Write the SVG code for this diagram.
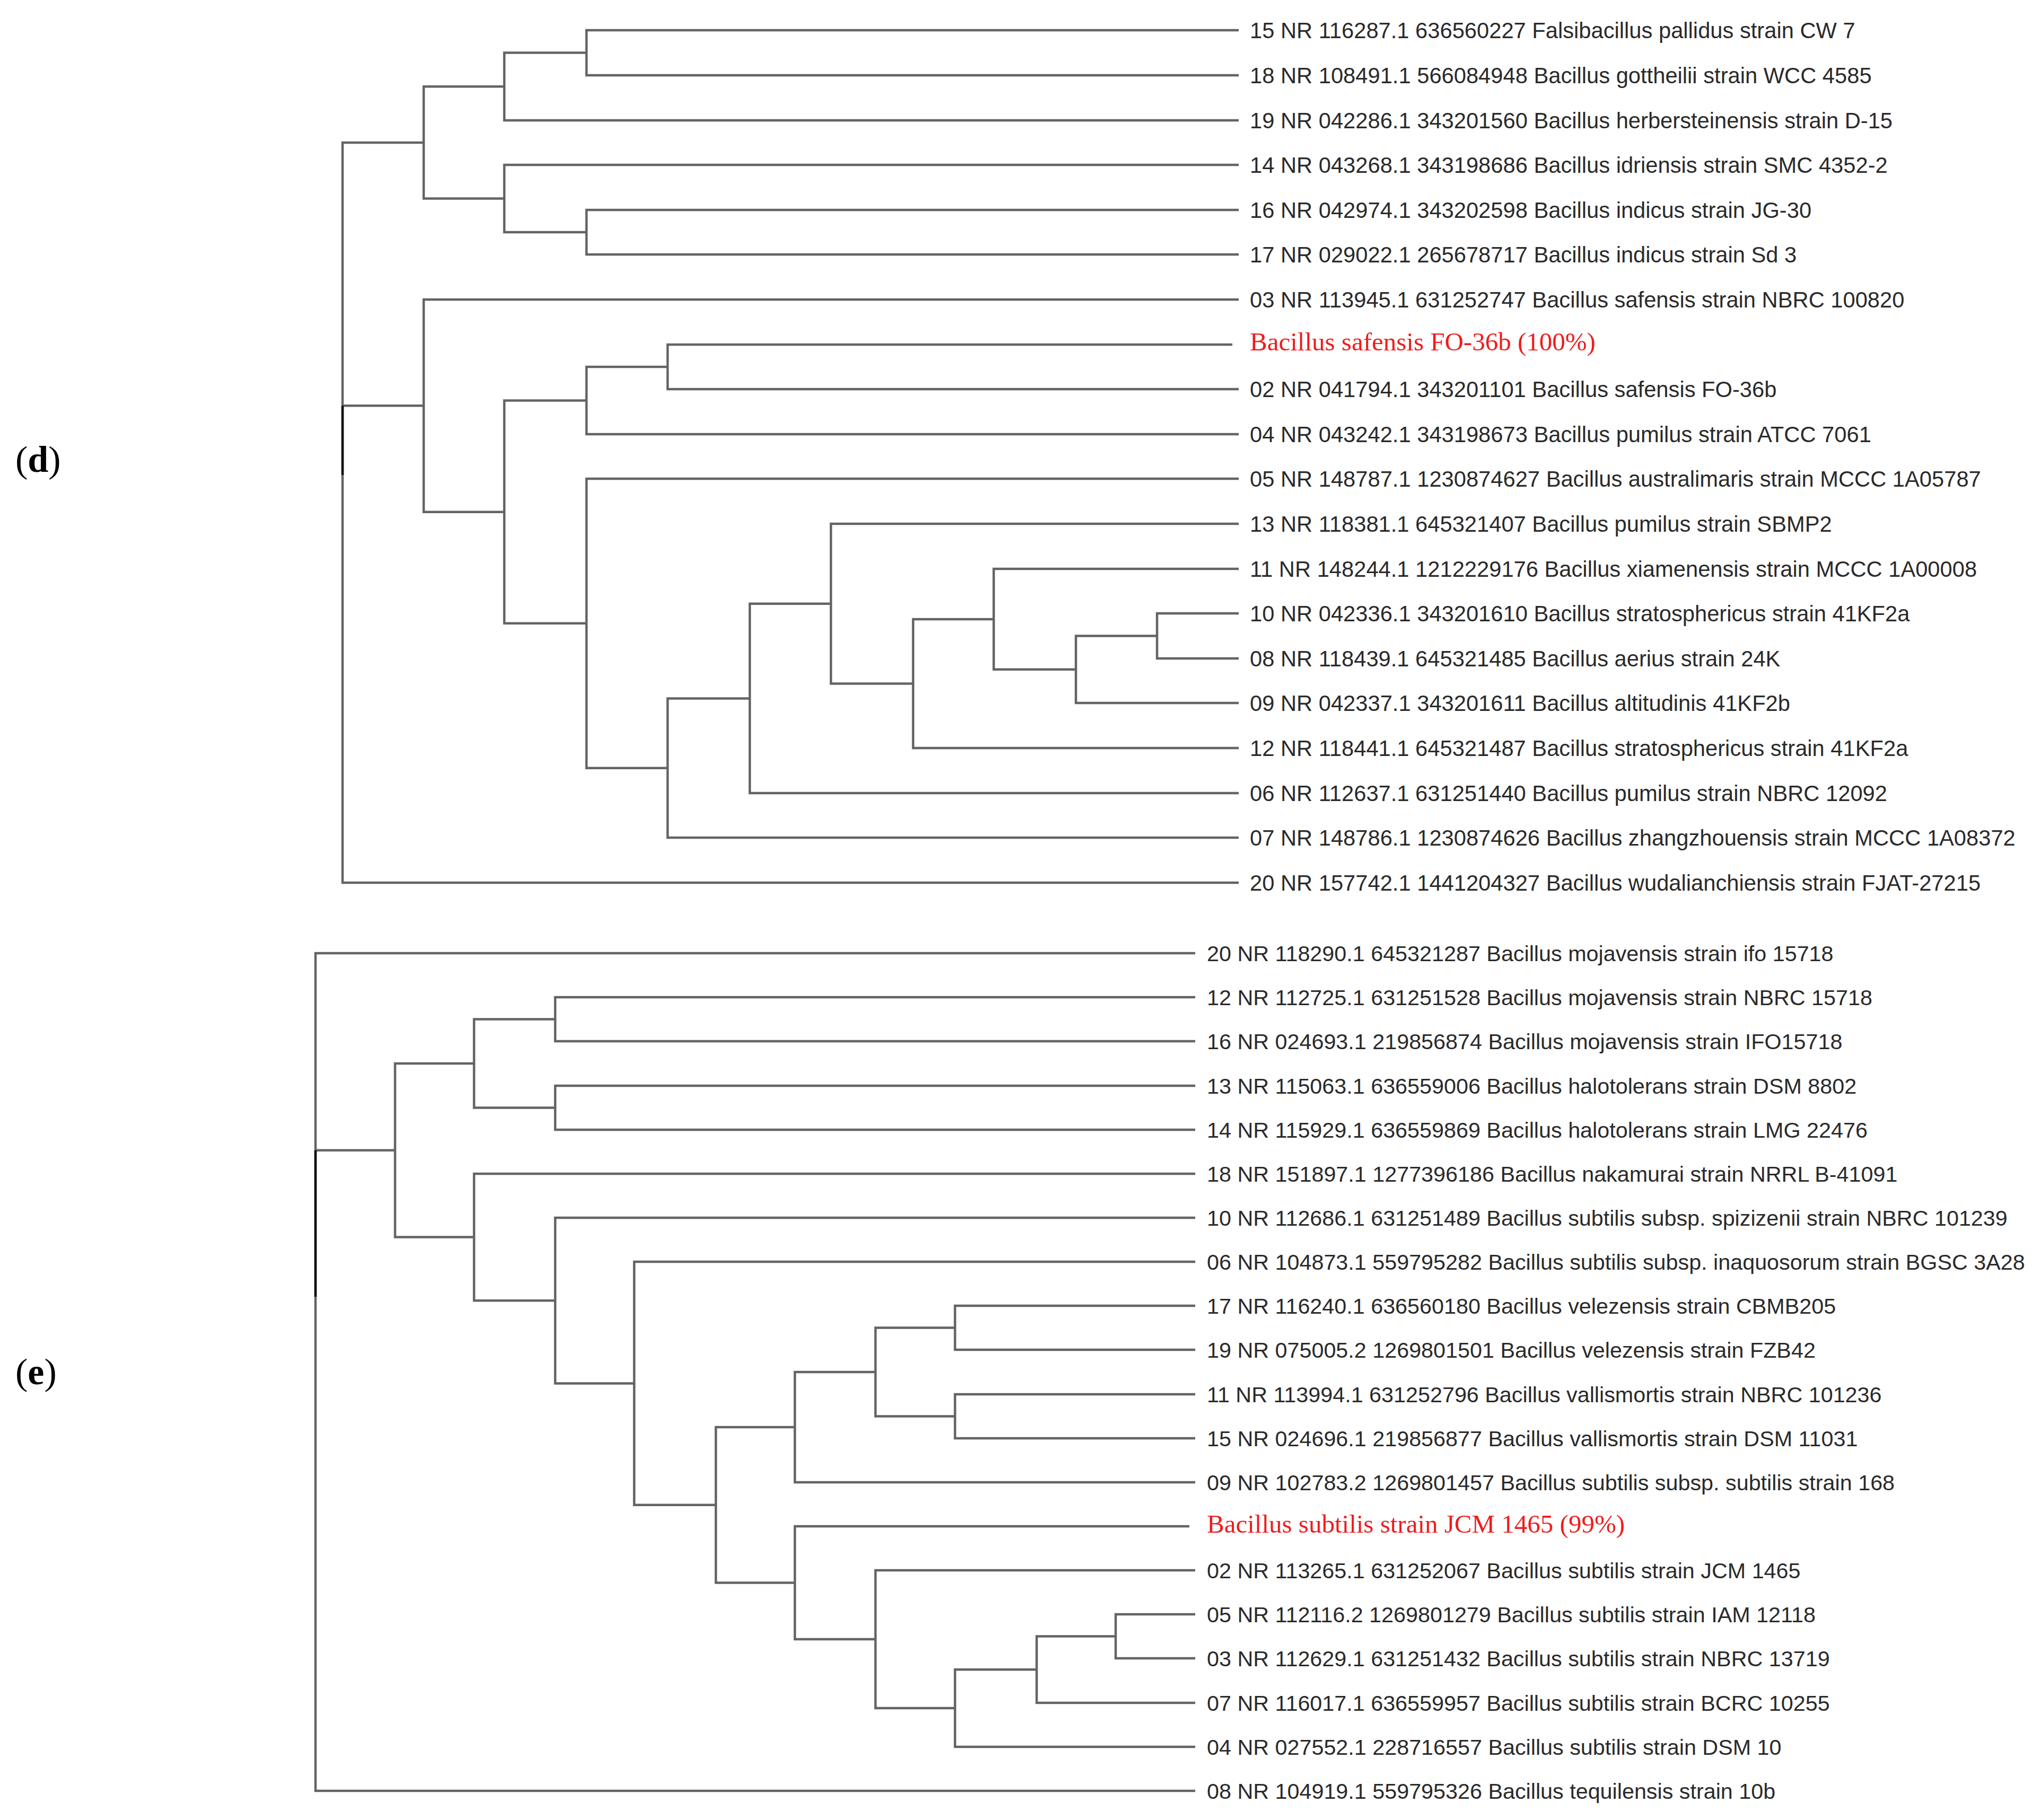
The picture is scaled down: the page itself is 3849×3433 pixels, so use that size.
<svg xmlns="http://www.w3.org/2000/svg" width="3849" height="3433" viewBox="0 0 3849 3433">
<style>
.br{fill:none;stroke:#646464;stroke-width:4.5}
.rt{fill:none;stroke:#111;stroke-width:4.5}
.lb{font-family:"Liberation Sans",Arial,sans-serif;font-size:41.7px;fill:#2a2a2a}
#leaves-e .lb{font-size:41.3px}
.rd{font-family:"Liberation Serif","Times New Roman",serif;font-size:49px;fill:#f01c1c}
.pn{font-family:"Liberation Serif","Times New Roman",serif;font-size:70px;fill:#000}
</style>
<rect width="3849" height="3433" fill="#fff"/>
<g id="panel-labels">
<text id="label-d" class="pn" x="29" y="890">(<tspan font-weight="bold">d</tspan>)</text>
<text id="label-e" class="pn" x="29" y="2611">(<tspan font-weight="bold">e</tspan>)</text>
</g>
<g id="connectors">
<g id="tree-d">
<path class="br" d="M2336 57H1106V142H2336"/>
<path class="br" d="M1106 99.5H951V227H2336"/>
<path class="br" d="M2336 396H1106V480H2336"/>
<path class="br" d="M2336 311H951V438H1106"/>
<path class="br" d="M951 163.25H799V374.5H951"/>
<path class="br" d="M2324 650H1259V734H2336"/>
<path class="br" d="M1259 692H1106V819H2336"/>
<path class="br" d="M2336 1157H2182V1242H2336"/>
<path class="br" d="M2182 1199.5H2029V1326H2336"/>
<path class="br" d="M2336 1073H1874V1262.75H2029"/>
<path class="br" d="M1874 1167.9H1722V1411H2336"/>
<path class="br" d="M2336 988H1567V1289.4H1722"/>
<path class="br" d="M1567 1138.7H1414V1496H2336"/>
<path class="br" d="M1414 1317.4H1259V1580H2336"/>
<path class="br" d="M2336 903H1106V1448.7H1259"/>
<path class="br" d="M1106 755.5H951V1175.8H1106"/>
<path class="br" d="M2336 565H799V965.7H951"/>
<path class="br" d="M799 268.9H646V1665H2336M646 765.3H799"/>
<path class="rt" d="M646 765.3V896"/>
</g>
<g id="tree-e">
<path class="br" d="M2254 1881H1047V1964H2254"/>
<path class="br" d="M2254 2048H1047V2131H2254"/>
<path class="br" d="M1047 1922.5H894V2089.5H1047"/>
<path class="br" d="M2254 2463H1801V2546H2254"/>
<path class="br" d="M2254 2630H1801V2713H2254"/>
<path class="br" d="M1801 2504.5H1651V2671.5H1801"/>
<path class="br" d="M1651 2588H1499V2796H2254"/>
<path class="br" d="M2254 3045H2104V3128H2254"/>
<path class="br" d="M2104 3086.5H1955V3212H2254"/>
<path class="br" d="M1955 3149.25H1801V3295H2254"/>
<path class="br" d="M2254 2962H1651V3222.1H1801"/>
<path class="br" d="M2243 2879H1499V3092.05H1651"/>
<path class="br" d="M1499 2692H1350V2985.5H1499"/>
<path class="br" d="M2254 2380H1196V2838.75H1350"/>
<path class="br" d="M2254 2297H1047V2609.4H1196"/>
<path class="br" d="M2254 2214H894V2453.2H1047"/>
<path class="br" d="M894 2006H745V2333.6H894"/>
<path class="br" d="M2254 1798H595V3378H2254M595 2169.8H745"/>
<path class="rt" d="M595 2169.8V2446"/>
</g>
</g>
<g id="leaves-d">
<g id="d15"><text class="lb" x="2357" y="72">15 NR 116287.1 636560227 Falsibacillus pallidus strain CW 7</text></g>
<g id="d18"><text class="lb" x="2357" y="157">18 NR 108491.1 566084948 Bacillus gottheilii strain WCC 4585</text></g>
<g id="d19"><text class="lb" x="2357" y="242">19 NR 042286.1 343201560 Bacillus herbersteinensis strain D-15</text></g>
<g id="d14"><text class="lb" x="2357" y="326">14 NR 043268.1 343198686 Bacillus idriensis strain SMC 4352-2</text></g>
<g id="d16"><text class="lb" x="2357" y="411">16 NR 042974.1 343202598 Bacillus indicus strain JG-30</text></g>
<g id="d17"><text class="lb" x="2357" y="495">17 NR 029022.1 265678717 Bacillus indicus strain Sd 3</text></g>
<g id="d03"><text class="lb" x="2357" y="580">03 NR 113945.1 631252747 Bacillus safensis strain NBRC 100820</text></g>
<g id="d-query"><text class="rd" x="2357" y="661">Bacillus safensis FO-36b (100%)</text></g>
<g id="d02"><text class="lb" x="2357" y="749">02 NR 041794.1 343201101 Bacillus safensis FO-36b</text></g>
<g id="d04"><text class="lb" x="2357" y="834">04 NR 043242.1 343198673 Bacillus pumilus strain ATCC 7061</text></g>
<g id="d05"><text class="lb" x="2357" y="918">05 NR 148787.1 1230874627 Bacillus australimaris strain MCCC 1A05787</text></g>
<g id="d13"><text class="lb" x="2357" y="1003">13 NR 118381.1 645321407 Bacillus pumilus strain SBMP2</text></g>
<g id="d11"><text class="lb" x="2357" y="1088">11 NR 148244.1 1212229176 Bacillus xiamenensis strain MCCC 1A00008</text></g>
<g id="d10"><text class="lb" x="2357" y="1172">10 NR 042336.1 343201610 Bacillus stratosphericus strain 41KF2a</text></g>
<g id="d08"><text class="lb" x="2357" y="1257">08 NR 118439.1 645321485 Bacillus aerius strain 24K</text></g>
<g id="d09"><text class="lb" x="2357" y="1341">09 NR 042337.1 343201611 Bacillus altitudinis 41KF2b</text></g>
<g id="d12"><text class="lb" x="2357" y="1426">12 NR 118441.1 645321487 Bacillus stratosphericus strain 41KF2a</text></g>
<g id="d06"><text class="lb" x="2357" y="1511">06 NR 112637.1 631251440 Bacillus pumilus strain NBRC 12092</text></g>
<g id="d07"><text class="lb" x="2357" y="1595">07 NR 148786.1 1230874626 Bacillus zhangzhouensis strain MCCC 1A08372</text></g>
<g id="d20"><text class="lb" x="2357" y="1680">20 NR 157742.1 1441204327 Bacillus wudalianchiensis strain FJAT-27215</text></g>
</g>
<g id="leaves-e">
<g id="e20"><text class="lb" x="2276" y="1813">20 NR 118290.1 645321287 Bacillus mojavensis strain ifo 15718</text></g>
<g id="e12"><text class="lb" x="2276" y="1896">12 NR 112725.1 631251528 Bacillus mojavensis strain NBRC 15718</text></g>
<g id="e16"><text class="lb" x="2276" y="1979">16 NR 024693.1 219856874 Bacillus mojavensis strain IFO15718</text></g>
<g id="e13"><text class="lb" x="2276" y="2063">13 NR 115063.1 636559006 Bacillus halotolerans strain DSM 8802</text></g>
<g id="e14"><text class="lb" x="2276" y="2146">14 NR 115929.1 636559869 Bacillus halotolerans strain LMG 22476</text></g>
<g id="e18"><text class="lb" x="2276" y="2229">18 NR 151897.1 1277396186 Bacillus nakamurai strain NRRL B-41091</text></g>
<g id="e10"><text class="lb" x="2276" y="2312">10 NR 112686.1 631251489 Bacillus subtilis subsp. spizizenii strain NBRC 101239</text></g>
<g id="e06"><text class="lb" x="2276" y="2395">06 NR 104873.1 559795282 Bacillus subtilis subsp. inaquosorum strain BGSC 3A28</text></g>
<g id="e17"><text class="lb" x="2276" y="2478">17 NR 116240.1 636560180 Bacillus velezensis strain CBMB205</text></g>
<g id="e19"><text class="lb" x="2276" y="2561">19 NR 075005.2 1269801501 Bacillus velezensis strain FZB42</text></g>
<g id="e11"><text class="lb" x="2276" y="2645">11 NR 113994.1 631252796 Bacillus vallismortis strain NBRC 101236</text></g>
<g id="e15"><text class="lb" x="2276" y="2728">15 NR 024696.1 219856877 Bacillus vallismortis strain DSM 11031</text></g>
<g id="e09"><text class="lb" x="2276" y="2811">09 NR 102783.2 1269801457 Bacillus subtilis subsp. subtilis strain 168</text></g>
<g id="e-query"><text class="rd" x="2276" y="2891">Bacillus subtilis strain JCM 1465 (99%)</text></g>
<g id="e02"><text class="lb" x="2276" y="2977">02 NR 113265.1 631252067 Bacillus subtilis strain JCM 1465</text></g>
<g id="e05"><text class="lb" x="2276" y="3060">05 NR 112116.2 1269801279 Bacillus subtilis strain IAM 12118</text></g>
<g id="e03"><text class="lb" x="2276" y="3143">03 NR 112629.1 631251432 Bacillus subtilis strain NBRC 13719</text></g>
<g id="e07"><text class="lb" x="2276" y="3227">07 NR 116017.1 636559957 Bacillus subtilis strain BCRC 10255</text></g>
<g id="e04"><text class="lb" x="2276" y="3310">04 NR 027552.1 228716557 Bacillus subtilis strain DSM 10</text></g>
<g id="e08"><text class="lb" x="2276" y="3393">08 NR 104919.1 559795326 Bacillus tequilensis strain 10b</text></g>
</g>
</svg>
